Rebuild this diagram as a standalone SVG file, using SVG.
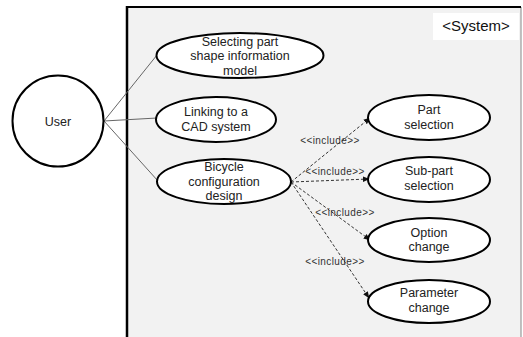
<svg xmlns="http://www.w3.org/2000/svg" width="523" height="337" viewBox="0 0 523 337">
<defs>
<style>
.uc{fill:#fff;stroke:#000;stroke-width:2}
.t{font-family:"Liberation Sans",Arial,sans-serif;font-size:12.5px;fill:#222;text-anchor:middle}
.inc{font-family:"Liberation Sans",Arial,sans-serif;font-size:10px;fill:#333;text-anchor:middle;letter-spacing:0.4px}
.assoc{stroke:#666;stroke-width:1;fill:none}
.dep{stroke:#333;stroke-width:1;stroke-dasharray:3 2;fill:none;marker-end:url(#ah)}
</style>
<marker id="ah" viewBox="0 0 10 10" refX="9" refY="5" markerWidth="7" markerHeight="7" orient="auto" markerUnits="userSpaceOnUse">
<path d="M0,1 L10,5 L0,9 z" fill="#111"/>
</marker>
</defs>
<rect width="523" height="337" fill="#fff"/>
<g id="system">
<rect x="127" y="7" width="394" height="340" fill="#f2f2f2"/>
<line x1="521" y1="7" x2="521" y2="337" stroke="#999" stroke-width="1.2"/>
<line x1="127" y1="7" x2="521" y2="7" stroke="#000" stroke-width="2.2"/>
<line x1="127" y1="6" x2="127" y2="337" stroke="#000" stroke-width="2.5"/>
<rect x="433" y="13" width="86" height="27" fill="#fff"/>
<text x="476" y="31" font-family="Liberation Sans,Arial,sans-serif" font-size="15" fill="#111" text-anchor="middle">&lt;System&gt;</text>
</g>
<g id="connectors">
<line class="assoc" x1="104" y1="121" x2="157" y2="55"/>
<line class="assoc" x1="104" y1="121" x2="157" y2="118" stroke="#333"/>
<line class="assoc" x1="104" y1="121" x2="158" y2="181"/>
<line class="dep" x1="291" y1="182" x2="370" y2="118"/>
<line class="dep" x1="291" y1="182" x2="369" y2="179"/>
<line class="dep" x1="291" y1="182" x2="370" y2="240"/>
<line class="dep" x1="291" y1="182" x2="369" y2="298"/>
<text class="inc" x="330" y="144">&lt;&lt;include&gt;&gt;</text>
<text class="inc" x="335" y="175">&lt;&lt;include&gt;&gt;</text>
<text class="inc" x="345" y="216">&lt;&lt;include&gt;&gt;</text>
<text class="inc" x="335" y="265">&lt;&lt;include&gt;&gt;</text>
</g>
<g id="user">
<circle class="uc" cx="58" cy="121" r="45.5"/>
<text class="t" x="58" y="125.5">User</text>
</g>
<g id="uc-selecting">
<ellipse class="uc" cx="240" cy="55.5" rx="83.5" ry="22.5" stroke-width="2.3"/>
<text class="t" x="240" y="45.5">Selecting part</text>
<text class="t" x="240" y="60">shape information</text>
<text class="t" x="240" y="74.5">model</text>
</g>
<g id="uc-linking">
<ellipse class="uc" cx="216" cy="119.5" rx="60" ry="22.5"/>
<text class="t" x="216" y="116">Linking to a</text>
<text class="t" x="216" y="130.5">CAD system</text>
</g>
<g id="uc-bicycle">
<ellipse class="uc" cx="224" cy="181.5" rx="67" ry="22.5"/>
<text class="t" x="224" y="171">Bicycle</text>
<text class="t" x="224" y="186">configuration</text>
<text class="t" x="224" y="200">design</text>
</g>
<g id="uc-part">
<ellipse class="uc" cx="429" cy="117.5" rx="61" ry="22.5"/>
<text class="t" x="429" y="114">Part</text>
<text class="t" x="429" y="128.5">selection</text>
</g>
<g id="uc-subpart">
<ellipse class="uc" cx="429" cy="179.5" rx="61" ry="22.5"/>
<text class="t" x="429" y="175">Sub-part</text>
<text class="t" x="429" y="189.5">selection</text>
</g>
<g id="uc-option">
<ellipse class="uc" cx="429" cy="240" rx="61" ry="22"/>
<text class="t" x="429" y="236.5">Option</text>
<text class="t" x="429" y="251">change</text>
</g>
<g id="uc-parameter">
<ellipse class="uc" cx="429" cy="301.5" rx="61" ry="21.5"/>
<text class="t" x="429" y="297">Parameter</text>
<text class="t" x="429" y="311.5">change</text>
</g>
</svg>
